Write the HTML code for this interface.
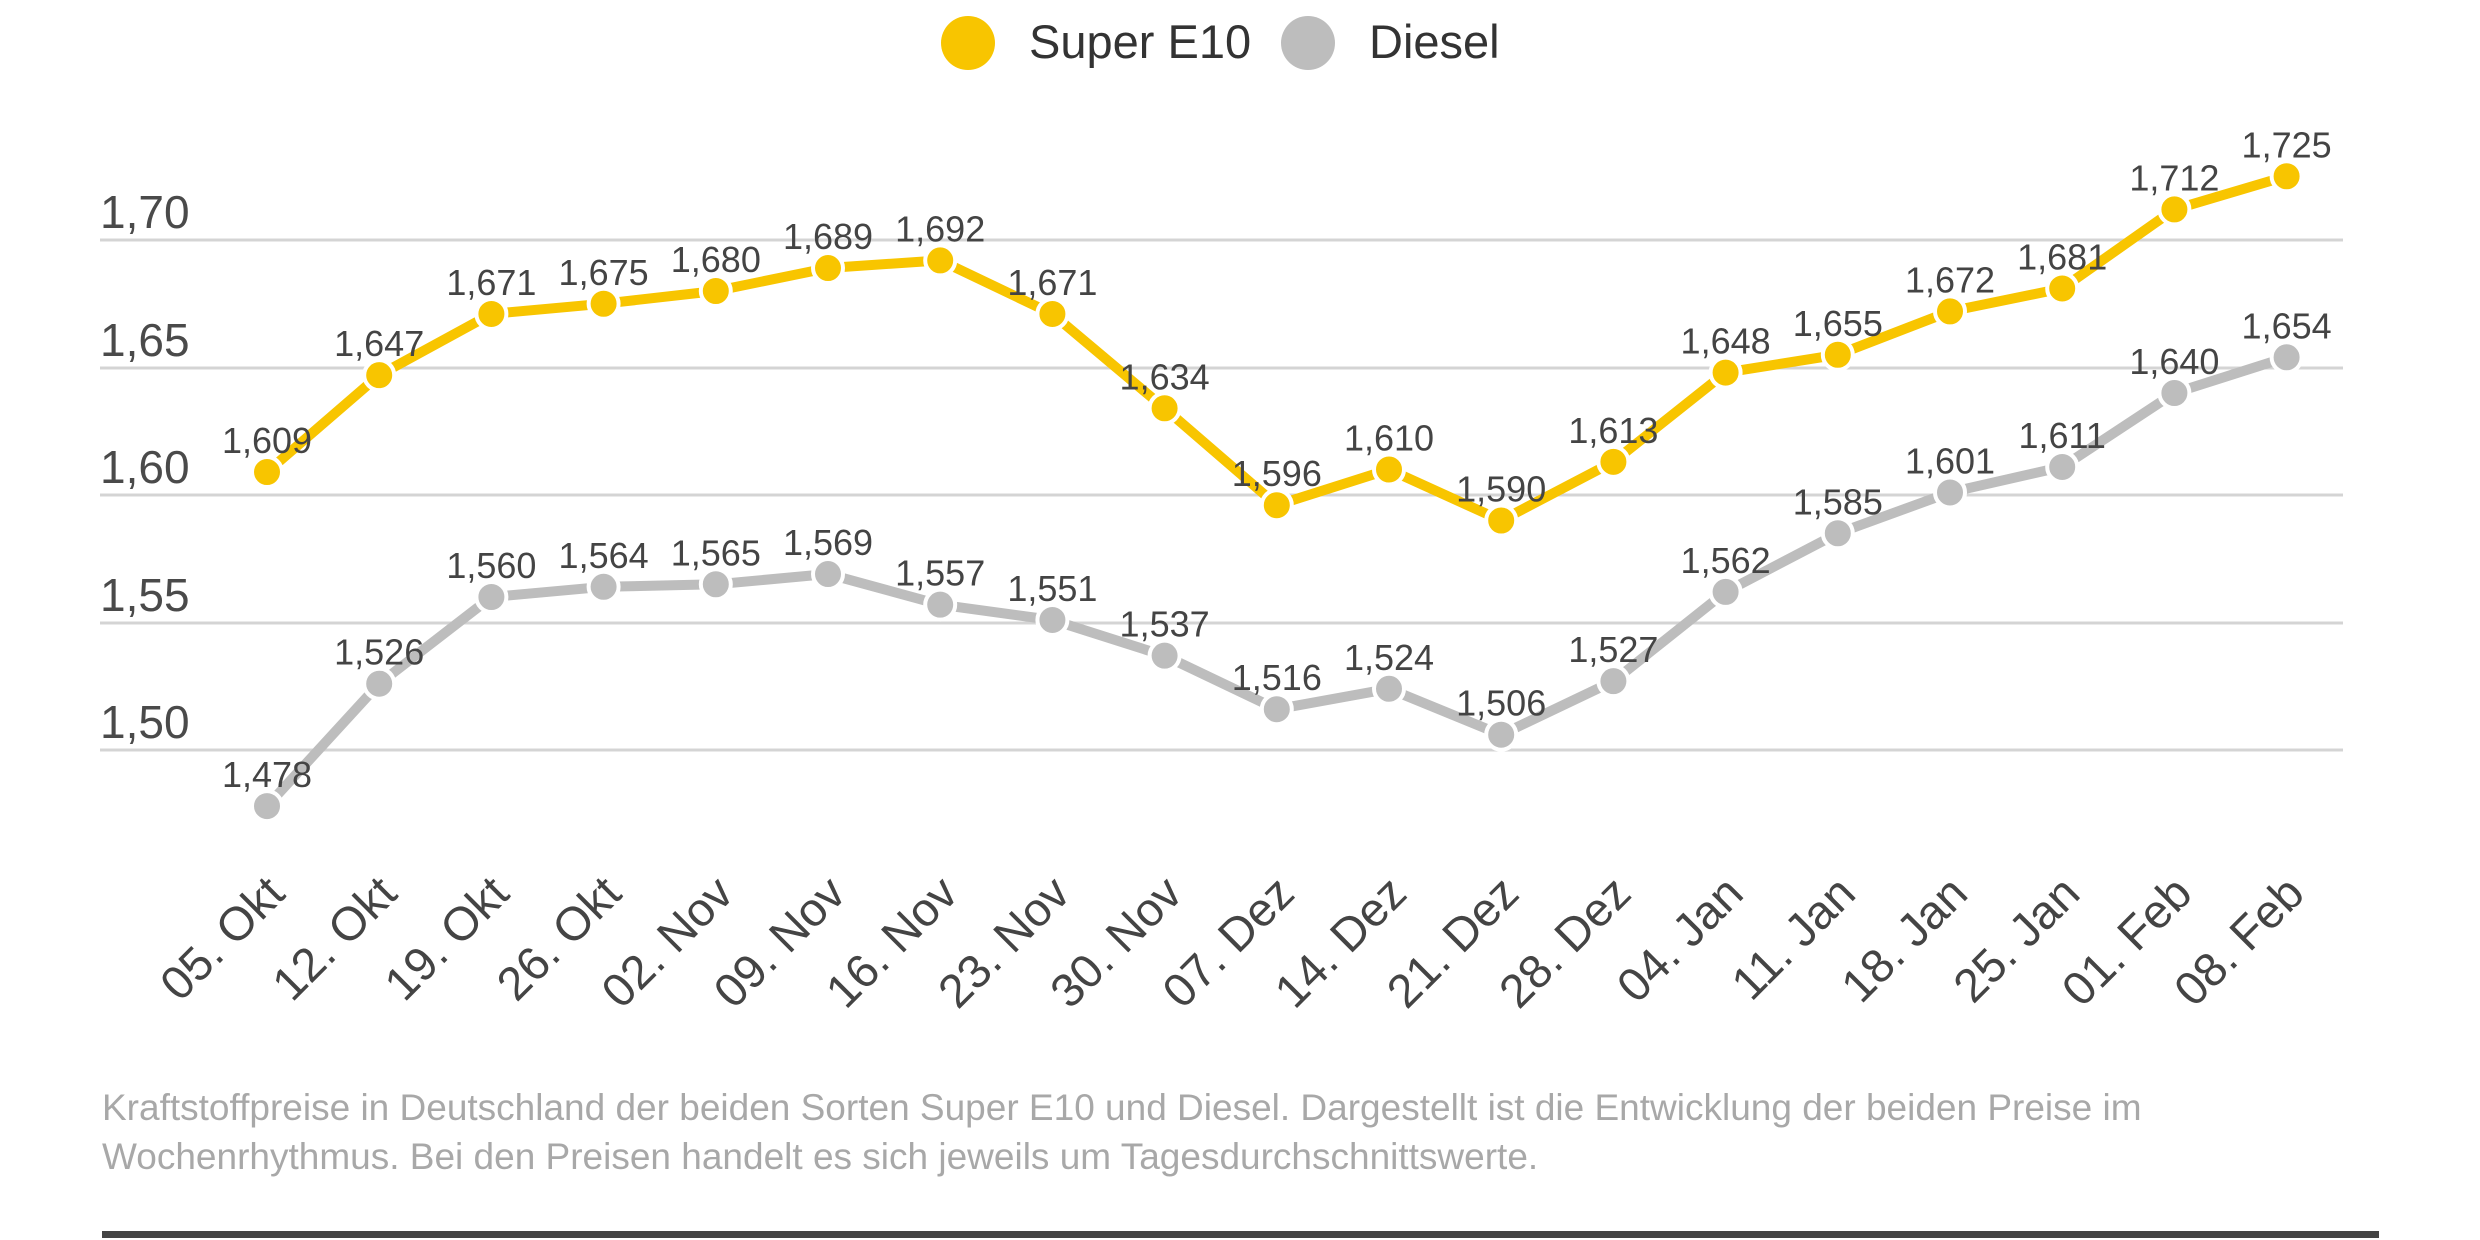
<!DOCTYPE html>
<html><head><meta charset="utf-8"><style>
html,body{margin:0;padding:0;background:#fff;}
svg{display:block;}
text{font-family:"Liberation Sans",sans-serif;}
</style></head><body>
<svg width="2480" height="1240" viewBox="0 0 2480 1240" xmlns="http://www.w3.org/2000/svg">
<g stroke="#d4d4d4" stroke-width="3">
<line x1="100" y1="240" x2="2343" y2="240"/>
<line x1="100" y1="368" x2="2343" y2="368"/>
<line x1="100" y1="495" x2="2343" y2="495"/>
<line x1="100" y1="623" x2="2343" y2="623"/>
<line x1="100" y1="750" x2="2343" y2="750"/>
</g>
<g fill="#4a4a4a" font-size="46">
<text x="100" y="228">1,70</text>
<text x="100" y="356">1,65</text>
<text x="100" y="483">1,60</text>
<text x="100" y="611">1,55</text>
<text x="100" y="738">1,50</text>
</g>
<circle cx="968" cy="43" r="27" fill="#f8c500"/>
<text x="1029" y="58" font-size="47" fill="#333">Super E10</text>
<circle cx="1308" cy="43" r="27" fill="#bdbdbd"/>
<text x="1369" y="58" font-size="47" fill="#333">Diesel</text>
<g id="chart"></g>
<g fill="#a8a8a8" font-size="37">
<text x="102" y="1120">Kraftstoffpreise in Deutschland der beiden Sorten Super E10 und Diesel. Dargestellt ist die Entwicklung der beiden Preise im</text>
<text x="102" y="1169">Wochenrhythmus. Bei den Preisen handelt es sich jeweils um Tagesdurchschnittswerte.</text>
</g>
<rect x="102" y="1231" width="2277" height="7" fill="#444"/>
</svg>
<script>
var e10=[1.609,1.647,1.671,1.675,1.680,1.689,1.692,1.671,1.634,1.596,1.610,1.590,1.613,1.648,1.655,1.672,1.681,1.712,1.725];
var di=[1.478,1.526,1.560,1.564,1.565,1.569,1.557,1.551,1.537,1.516,1.524,1.506,1.527,1.562,1.585,1.601,1.611,1.640,1.654];
var lab=["05. Okt","12. Okt","19. Okt","26. Okt","02. Nov","09. Nov","16. Nov","23. Nov","30. Nov","07. Dez","14. Dez","21. Dez","28. Dez","04. Jan","11. Jan","18. Jan","25. Jan","01. Feb","08. Feb"];
function X(i){return 267+i*112.2;}
function Y(v){return 240+(1.70-v)*2550;}
var s="";
function series(d,c){
 var p=d.map(function(v,i){return X(i).toFixed(1)+","+Y(v).toFixed(1)}).join(" ");
 s+='<polyline points="'+p+'" fill="none" stroke="'+c+'" stroke-width="10" stroke-linejoin="round"/>';
 d.forEach(function(v,i){s+='<circle cx="'+X(i)+'" cy="'+Y(v)+'" r="15" fill="'+c+'" stroke="#fff" stroke-width="4"/>';});
 d.forEach(function(v,i){s+='<text x="'+X(i)+'" y="'+(Y(v)-19)+'" text-anchor="middle" font-size="36" fill="#444">'+v.toFixed(3).replace(".",",")+'</text>';});
}
series(di,"#bdbdbd");series(e10,"#f8c500");
lab.forEach(function(t,i){var x=X(i)+20,y=896;s+='<text x="'+x+'" y="'+y+'" text-anchor="end" font-size="47" fill="#444" transform="rotate(-45 '+x+' '+y+')">'+t+'</text>';});
document.getElementById("chart").innerHTML=s;
</script>
</body></html>
